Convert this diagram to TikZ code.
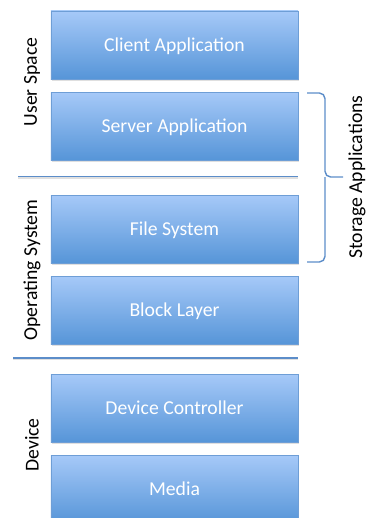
\documentclass[tikz,border=0pt]{standalone}
\usepackage{fontspec}
\setmainfont{Carlito}
\usepackage{tikz}
\usetikzlibrary{positioning, shadows}
\definecolor{boxtop}{RGB}{166,201,248}
\definecolor{boxbot}{RGB}{86,149,216}
\definecolor{boxrim}{RGB}{110,158,214}
\definecolor{rule}{RGB}{92,141,201}

\begin{document}
\begin{tikzpicture}[x=0.025cm, y=-0.025cm, node distance=0.325cm,
    every node/.style={font=\fontsize{14}{17}\selectfont},
    layer/.style={draw=boxrim, line width=0.6pt, top color=boxtop, bottom color=boxbot,
      minimum width=6.175cm, minimum height=1.7cm, inner sep=0pt, outer sep=0pt,
      text=white, text height=11.5pt, text depth=2pt,
      drop shadow={shadow xshift=0.6pt, shadow yshift=-1.6pt, opacity=0.25}},
    sep/.style={draw=rule, line width=1.2pt,
      preaction={draw=black!12, line width=1.6pt, transform canvas={yshift=-0.9pt}}},
    brace/.style={draw=rule, line width=1pt, rounded corners=4pt},
    side/.style={rotate=90, text=black}]
  \useasboundingbox (0,0) rectangle (366,518);
  \clip (0,0) rectangle (366,518);

  % the stack of layers
  \node[layer] (client) at (174.5,45) {Client Application};
  \node[layer, below=of client] (server) {Server Application};
  \node[layer, below=0.875cm of server] (fs) {File System};
  \node[layer, below=of fs] (block) {Block Layer};
  \node[layer, below=0.75cm of block] (ctrl) {Device Controller};
  \node[layer, below=of ctrl] (media) {Media};

  % boundaries between the three domains
  \draw[sep] (18,176.5) -- (298,176.5);
  \draw[sep] (13,358) -- (298,358);

  \node[side] (user) at (32,82) {User Space};
  \node[side] (os) at (32,270) {Operating System};
  \node[side] (dev) at (32,445) {Device};

  % brace over the storage applications
  \draw[brace] (307,93) -| (325,177) -- (343,177);
  \draw[brace] (307,262) -| (325,177);
  \node[side] (stor) at (357,177) {Storage Applications};
\end{tikzpicture}
\end{document}
